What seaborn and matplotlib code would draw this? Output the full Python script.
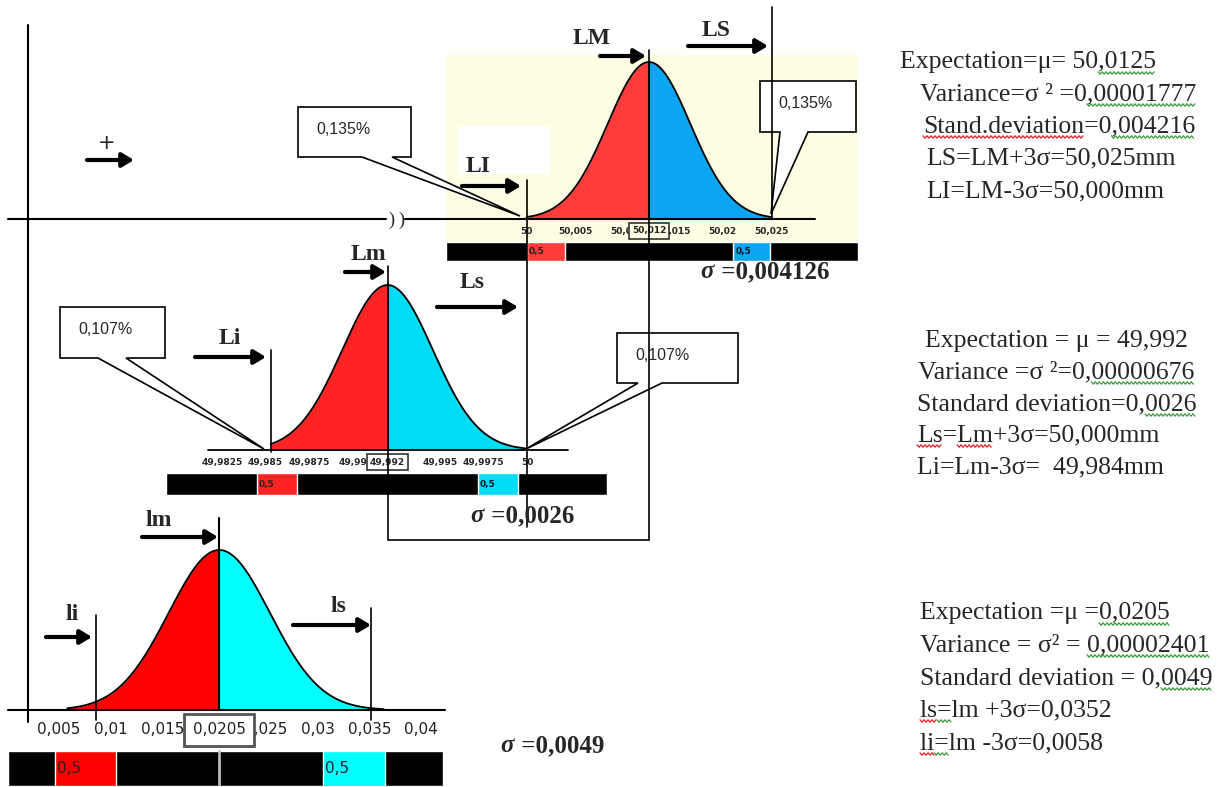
#!/usr/bin/env python3
import numpy as np
import matplotlib
matplotlib.use("Agg")
import matplotlib.pyplot as plt
import matplotlib.transforms as mtransforms
from matplotlib.patches import Polygon, Rectangle
import seaborn as sns

sns.set_style("white")
plt.rcParams["font.family"] = ["DejaVu Sans"]
SERIF = ["Liberation Serif", "DejaVu Serif"]
SANS = ["Liberation Sans", "DejaVu Sans"]

W, H = 1218, 787

# ==== values
top_mu, top_sd = 50.0125, 0.004216
top_li, top_ls = 50.000, 50.025
top_ticks = [50.000, 50.005, 50.010, 50.015, 50.020, 50.025]
top_tick_labels = ["50", "50,005", "50,01", "50,015", "50,02", "50,025"]
top_red_seg = [50.0000, 50.0039]
top_blue_seg = [50.0211, 50.0248]
top_mean_label = "50,012"
top_sigma = "0,004126"
top_tail = "0,135%"

mid_mu, mid_sd = 49.992, 0.0026
mid_li, mid_ls = 49.9853, 50.000
mid_ticks = [49.9825, 49.985, 49.9875, 49.99, 49.9925, 49.995, 49.9975, 50.0]
# the 49,9925 label sits under the mean box in the picture
mid_tick_labels = ["49,9825", "49,985", "49,9875", "49,99", "",
                   "49,995", "49,9975", "50"]
mid_red_seg = [49.9845, 49.9868]
mid_cyan_seg = [49.9972, 49.9995]
mid_mean_label = "49,992"
mid_sigma = "0,0026"
mid_tail = "0,107%"

bot_mu, bot_sd = 0.0205, 0.0049
bot_li, bot_ls = 0.0058, 0.0352
bot_li_mark = 0.0086
bot_ticks = [0.005, 0.01, 0.015, 0.02, 0.025, 0.03, 0.035, 0.04]
# 0,02 is hidden under the mean box
bot_tick_labels = ["0,005", "0,01", "0,015", "", "0,025", "0,03", "0,035", "0,04"]
bot_red_seg = [0.0046, 0.0105]
bot_cyan_seg = [0.0305, 0.0365]
bot_mean_label = "0,0205"
bot_sigma = "0,0049"

stats_top = ["Expectation=μ= 50,0125", "Variance=σ ² =0,00001777",
             "Stand.deviation=0,004216", "LS=LM+3σ=50,025mm", "LI=LM-3σ=50,000mm"]
stats_mid = ["Expectation = μ = 49,992", "Variance =σ ²=0,00000676",
             "Standard deviation=0,0026", "Ls=Lm+3σ=50,000mm", "Li=Lm-3σ=  49,984mm"]
stats_bot = ["Expectation =μ =0,0205", "Variance = σ² = 0,00002401",
             "Standard deviation = 0,0049", "ls=lm +3σ=0,0352", "li=lm -3σ=0,0058"]
# spell-check squiggles: (line, start char, end char, colour)
squiggles_top = [(0, 17, 22, "g"), (1, 15, 24, "g"), (2, 0, 15, "r"), (2, 17, 24, "g")]
squiggles_mid = [(1, 16, 24, "g"), (2, 21, 25, "g"), (3, 0, 2, "r"), (3, 3, 5, "r")]
squiggles_bot = [(0, 16, 22, "g"), (1, 16, 26, "g"), (2, 23, 27, "g"),
                 (3, 0, 2, "r"), (3, 2, 3, "g"), (4, 0, 2, "r"), (4, 2, 3, "g")]

fig = plt.figure(figsize=(W / 100, H / 100), dpi=100)


def panel(xl, xr, yt, yb, v0, px0, scale, base, peak):
    # axes placed in pixel space, x in real units, y = pdf / peak
    ax = fig.add_axes([xl / W, 1 - yb / H, (xr - xl) / W, (yb - yt) / H])
    ax.set_xlim(v0 + (xl - px0) / scale, v0 + (xr - px0) / scale)
    unit = base - peak
    ax.set_ylim(-(yb - base) / unit, (base - yt) / unit)
    for s in ax.spines.values():
        s.set_visible(False)
    ax.spines["bottom"].set_position(("data", 0))
    ax.set_yticks([])
    ax.unit = unit
    ax.base = base
    return ax


def ypx(ax, py):
    return (ax.base - py) / ax.unit


def curve(ax, mu, sd, lo, hi, c_left, c_right):
    xl = np.linspace(lo, mu, 200)
    xr = np.linspace(mu, hi, 200)
    g = lambda x: np.exp(-0.5 * ((x - mu) / sd) ** 2)
    ax.fill_between(xl, g(xl), color=c_left, lw=0)
    ax.fill_between(xr, g(xr), color=c_right, lw=0)
    xs = np.concatenate([xl, xr[1:]])
    sns.lineplot(x=xs, y=g(xs), ax=ax, color="black", lw=1.3, sort=False)
    ax.plot([mu, mu], [0, 1], color="black", lw=1.5)


def bar(ax, y0, y1, segs, colors):
    lo, hi = ax.get_xlim()
    ya, yb = ypx(ax, y1), ypx(ax, y0)
    ax.barh((ya + yb) / 2, hi - lo, left=lo, height=yb - ya, color="black")
    for (a, b), c in zip(segs, colors):
        ax.barh((ya + yb) / 2, b - a, left=a, height=yb - ya, color=c)
    return (ya + yb) / 2


# top
ax_t = panel(446, 858, 55, 261, 50.0, 526.5, 9800, 219, 62)
ax_t.set_facecolor("#fdfde3")
curve(ax_t, top_mu, top_sd, top_li, top_ls, "#ff3c3c", "#0aa6f2")
yc = bar(ax_t, 242, 261, [top_red_seg, top_blue_seg], ["#ff3c3c", "#0aa6f2"])
ax_t.text(top_red_seg[0] + 0.0002, yc, "0,5", fontsize=6.5, fontweight="bold", va="center", color="#222")
ax_t.text(top_blue_seg[0] + 0.0002, yc, "0,5", fontsize=6.5, fontweight="bold", va="center", color="#112")
ax_t.set_xticks(top_ticks, labels=top_tick_labels, fontsize=6.5, fontweight="bold")
ax_t.tick_params(axis="x", length=0, pad=6)
ax_t.text(top_mu, ypx(ax_t, 231), top_mean_label, fontsize=6.5, fontweight="bold",
          ha="center", va="center", zorder=6,
          bbox=dict(boxstyle="square,pad=0.35", fc="#fdfde3", ec="#333", lw=1.2))

# middle
ax_m = panel(166, 607, 270, 495, 50.0, 527, 17430, 450, 285)
curve(ax_m, mid_mu, mid_sd, mid_li, mid_ls, "#ff2424", "#00dcf5")
yc = bar(ax_m, 473, 495, [mid_red_seg, mid_cyan_seg], ["#ff2424", "#00dcf5"])
ax_m.text(mid_red_seg[0] + 0.0001, yc, "0,5", fontsize=6.5, fontweight="bold", va="center", color="#222")
ax_m.text(mid_cyan_seg[0] + 0.0001, yc, "0,5", fontsize=6.5, fontweight="bold", va="center", color="#112")
ax_m.set_xticks(mid_ticks, labels=mid_tick_labels, fontsize=6.5, fontweight="bold")
ax_m.tick_params(axis="x", length=0, pad=6)
ax_m.text(mid_mu, ypx(ax_m, 462), mid_mean_label, fontsize=6.5, fontweight="bold",
          ha="center", va="center", zorder=6,
          bbox=dict(boxstyle="square,pad=0.35", fc="white", ec="#333", lw=1.2))

# bottom
ax_b = panel(8, 443, 540, 786, 0.005, 59, 10343, 710, 550)
curve(ax_b, bot_mu, bot_sd, bot_li, bot_ls + 0.0012, "#ff0000", "#00ffff")
yc = bar(ax_b, 751, 786, [bot_red_seg, bot_cyan_seg], ["#ff0000", "#00ffff"])
ax_b.plot([bot_mu, bot_mu], [ypx(ax_b, 751), ypx(ax_b, 786)], color="#bbb", lw=2)
ax_b.text(bot_red_seg[0] + 0.0002, yc, "0,5", fontsize=11, va="center", color="#222")
ax_b.text(bot_cyan_seg[0] + 0.0002, yc, "0,5", fontsize=11, va="center", color="#222")
ax_b.set_xticks(bot_ticks, labels=bot_tick_labels, fontsize=11, color="#222")
ax_b.tick_params(axis="x", direction="in", length=5, width=1, pad=9, colors="#222")
ax_b.text(bot_mu, ypx(ax_b, 730), bot_mean_label, fontsize=11, color="#222",
          ha="center", va="center", zorder=6,
          bbox=dict(boxstyle="square,pad=0.55", fc="white", ec="#555", lw=2))

# overlay in pixel space for the drawing annotations
cv = fig.add_axes([0, 0, 1, 1])
cv.set_xlim(0, W)
cv.set_ylim(H, 0)
cv.set_autoscale_on(False)
cv.axis("off")
cv.set_zorder(10)
cv.patch.set_alpha(0)
renderer = fig.canvas.get_renderer()


def vline(ax, x, y0, y1, lw=1.2):
    tr = mtransforms.blended_transform_factory(ax.transData, cv.transData)
    cv.plot([x, x], [y0, y1], transform=tr, color="black", lw=lw)


def px(ax, x):
    return cv.transData.inverted().transform(ax.transData.transform((x, 0)))[0]


def arrow(x0, x1, y):
    cv.annotate("", xy=(x1, y), xytext=(x0, y),
                arrowprops=dict(arrowstyle="-|>,head_length=0.5,head_width=0.3",
                                lw=3, color="black", shrinkA=0, shrinkB=0,
                                mutation_scale=14))


def label(x, y, s):
    cv.text(x, y, s, fontsize=17, fontweight="bold", family=SERIF, ha="center", va="center")


def sigma(x, y, s):
    cv.text(x, y, "σ", fontsize=18, fontweight="bold", style="italic", family=SERIF, va="center")
    cv.text(x + 15, y, " =" + s, fontsize=18, fontweight="bold", family=SERIF, va="center")


def callout(box, base, tip, s):
    x0, y0, x1, y1 = box
    pts = [(x0, y0), (x1, y0), (x1, y1), (base[1], y1), tip, (base[0], y1), (x0, y1)]
    cv.add_patch(Polygon(pts, closed=True, fc="white", ec="black", lw=1.2))
    cv.text(x0 + 18, (y0 + y1) / 2 - 3, s, fontsize=11.5, family=SANS, va="center")


def text_w(s, **kw):
    t = cv.text(0, 0, s, **kw)
    w = t.get_window_extent(renderer).width
    t.remove()
    return w


def squiggle(x0, x1, y, c):
    xs = np.arange(x0, x1 + 0.1, 2.0)
    ys = y + np.where(np.arange(len(xs)) % 2 == 0, -1.2, 1.2)
    cv.plot(xs, ys, color={"g": "#3a9a3a", "r": "#e02020"}[c], lw=0.9)


# axes of the sketch
cv.plot([28, 28], [25, 722], color="black", lw=1.5)
cv.plot([8, 386], [219, 219], color="black", lw=1.5)
cv.plot([405, 815], [219, 219], color="black", lw=1.5)
cv.text(391, 220, ")", fontsize=13, family=SERIF, ha="center", va="center")
cv.text(401, 220, ")", fontsize=13, family=SERIF, ha="center", va="center")
cv.plot([208, 568], [450, 450], color="black", lw=1.3)
cv.plot([8, 445], [710, 710], color="black", lw=1.5)
cv.text(107, 143, "+", fontsize=15, ha="center", va="center")
arrow(87, 134, 160)

# top markers
cv.add_patch(Rectangle((458, 126), 92, 48, fc="white", ec="none"))
vline(ax_t, top_ls, 7, 219)
vline(ax_t, top_li, 180, 527)
vline(ax_t, top_mu, 50, 540)
label(592, 38, "LM")
arrow(600, 646, 56)
label(716, 30, "LS")
arrow(688, 768, 46)
label(478, 166, "LI")
arrow(462, 521, 186)
callout((298, 107, 411, 157), (362, 392), (520, 216), top_tail)
callout((760, 81, 856, 132), (780, 808), (771, 214), top_tail)
sigma(700, 272, top_sigma)

# middle markers
vline(ax_m, mid_li, 350, 452)
vline(ax_m, mid_mu, 266, 540)
cv.plot([px(ax_m, mid_mu), px(ax_t, top_mu)], [540, 540], color="black", lw=1.2)
label(368, 254, "Lm")
arrow(345, 386, 272)
label(472, 283, "Ls")
arrow(437, 518, 307)
label(230, 338, "Li")
arrow(195, 266, 357)
callout((60, 307, 165, 358), (98, 126), (264, 449), mid_tail)
callout((617, 333, 738, 383), (638, 662), (526, 449), mid_tail)
sigma(470, 516, mid_sigma)

# bottom markers
vline(ax_b, bot_mu, 518, 710, lw=1.5)
vline(ax_b, bot_li_mark, 615, 720)
vline(ax_b, bot_ls, 608, 720)
label(159, 521, "lm")
arrow(142, 218, 537)
label(72, 615, "li")
arrow(46, 92, 637)
label(338, 606, "ls")
arrow(293, 371, 625)
sigma(500, 746, bot_sigma)

# statistics blocks
stat_font = dict(fontsize=18.5, family=SERIF)
for lines, xs, ys, sq in [
    (stats_top, [900, 920, 923, 926, 926], [62, 94, 126, 158, 191], squiggles_top),
    (stats_mid, [925, 918, 917, 917, 917], [341, 372, 404, 435, 467], squiggles_mid),
    (stats_bot, [920, 920, 920, 920, 920], [613, 645, 678, 710, 743], squiggles_bot),
]:
    for s, x, y in zip(lines, xs, ys):
        cv.text(x, y, s, va="center", **stat_font)
    for i, a, b, c in sq:
        s = lines[i]
        xa = xs[i] + text_w(s[:a], **stat_font) if a else xs[i]
        xb = xs[i] + text_w(s[:b], **stat_font)
        squiggle(xa, xb, ys[i] + 11, c)

fig.savefig("out.png", dpi=100)
